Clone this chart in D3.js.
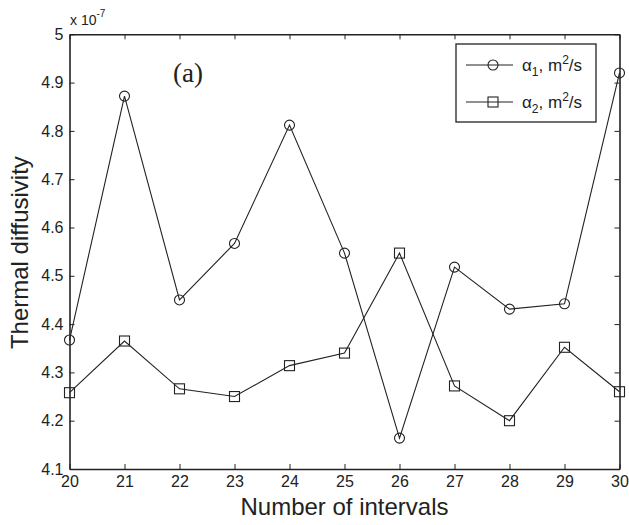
<!DOCTYPE html>
<html>
<head>
<meta charset="utf-8">
<script src="https://cdn.jsdelivr.net/npm/d3@7"></script>
<style>
  body { margin: 0; background: #fff; }
  text { font-family: "Liberation Sans", Arial, sans-serif; fill: #222; }
</style>
</head>
<body>
<div id="chart"></div>
<script>
// data (values in units of 1e-7 m^2/s)
var intervals = [20, 21, 22, 23, 24, 25, 26, 27, 28, 29, 30];
var alpha1 = [4.367, 4.872, 4.450, 4.567, 4.812, 4.547, 4.164, 4.518, 4.431, 4.442, 4.920];
var alpha2 = [4.258, 4.365, 4.266, 4.250, 4.314, 4.340, 4.547, 4.272, 4.200, 4.352, 4.260];
var xTicks = [20, 21, 22, 23, 24, 25, 26, 27, 28, 29, 30];
var yTicks = [4.1, 4.2, 4.3, 4.4, 4.5, 4.6, 4.7, 4.8, 4.9, 5];

var W = 629, H = 525;
var margin = {top: 34.3, right: 9.5, bottom: 56, left: 69.5},
    width = W - margin.left - margin.right,
    height = H - margin.top - margin.bottom;

var svg = d3.select("#chart").append("svg").attr("width", W).attr("height", H),
    g = svg.append("g").attr("transform", "translate(" + margin.left + "," + margin.top + ")");

var x = d3.scaleLinear().domain([20, 30]).range([0, width]);
var y = d3.scaleLinear().domain([4.1, 5]).range([height, 0]);

var ink = "#222";

// axes (ticks point inwards on all four sides)
function styleAxis(sel) {
    sel.select(".domain").attr("stroke", ink).attr("stroke-width", 1.6);
    sel.selectAll(".tick line").attr("stroke", ink).attr("stroke-width", 1);
    sel.selectAll(".tick text").style("font-size", "16px").attr("fill", ink);
}

g.append("g")
    .attr("transform", "translate(0," + height + ")")
    .call(d3.axisBottom(x).tickValues(xTicks).tickSize(-5).tickSizeOuter(0).tickPadding(7)
        .tickFormat(d3.format("d")))
    .call(styleAxis);

g.append("g")
    .call(d3.axisLeft(y).tickValues(yTicks).tickSize(-5).tickSizeOuter(0).tickPadding(6)
        .tickFormat(function (d) { return d === 5 ? "5" : d3.format(".1f")(d); }))
    .call(styleAxis);

g.append("g")
    .call(d3.axisTop(x).tickValues(xTicks).tickSize(-5).tickSizeOuter(0).tickFormat(""))
    .call(styleAxis);

g.append("g")
    .attr("transform", "translate(" + width + ",0)")
    .call(d3.axisRight(y).tickValues(yTicks).tickSize(-5).tickSizeOuter(0).tickFormat(""))
    .call(styleAxis);

// exponent label
var ex = svg.append("text").attr("x", 70).attr("y", 25).style("font-size", "14px");
ex.append("tspan").text("x 10");
ex.append("tspan").attr("dy", -8).style("font-size", "10px").text("-7");

// lines
var line1 = d3.line()
    .x(function (d, i) { return x(intervals[i]); })
    .y(function (d) { return y(d); });

g.append("path").datum(alpha1).attr("d", line1)
    .attr("fill", "none").attr("stroke", ink).attr("stroke-width", 1.1);
g.append("path").datum(alpha2).attr("d", line1)
    .attr("fill", "none").attr("stroke", ink).attr("stroke-width", 1.1);

// markers
g.selectAll(".m1").data(alpha1).enter().append("circle")
    .attr("class", "m1")
    .attr("cx", function (d, i) { return x(intervals[i]); })
    .attr("cy", function (d) { return y(d); })
    .attr("r", 5)
    .attr("fill", "none").attr("stroke", ink).attr("stroke-width", 1.1);

g.selectAll(".m2").data(alpha2).enter().append("rect")
    .attr("class", "m2")
    .attr("x", function (d, i) { return x(intervals[i]) - 5; })
    .attr("y", function (d) { return y(d) - 5; })
    .attr("width", 10).attr("height", 10)
    .attr("fill", "none").attr("stroke", ink).attr("stroke-width", 1.1);

// panel label
svg.append("text")
    .attr("x", 173).attr("y", 82)
    .style("font-family", "'Liberation Serif', 'Times New Roman', serif")
    .style("font-size", "27px")
    .text("(a)");

// legend
var leg = svg.append("g").attr("transform", "translate(456,44)");
leg.append("rect").attr("width", 140).attr("height", 78)
    .attr("fill", "#fff").attr("stroke", ink).attr("stroke-width", 1.3);

var legendItems = [{sub: "1", shape: "circle", yy: 21}, {sub: "2", shape: "square", yy: 58}];
legendItems.forEach(function (it) {
    leg.append("line").attr("x1", 10).attr("x2", 57).attr("y1", it.yy).attr("y2", it.yy)
        .attr("stroke", ink).attr("stroke-width", 1.1);
    if (it.shape === "circle") {
        leg.append("circle").attr("cx", 37).attr("cy", it.yy).attr("r", 5)
            .attr("fill", "none").attr("stroke", ink).attr("stroke-width", 1.1);
    } else {
        leg.append("rect").attr("x", 32).attr("y", it.yy - 5).attr("width", 10).attr("height", 10)
            .attr("fill", "none").attr("stroke", ink).attr("stroke-width", 1.1);
    }
    var t = leg.append("text").attr("x", 66).attr("y", it.yy + 6).style("font-size", "17px");
    t.append("tspan").text("\u03b1");
    t.append("tspan").attr("dy", 5).style("font-size", "12px").text(it.sub);
    t.append("tspan").attr("dy", -5).text(", m");
    t.append("tspan").attr("dy", -7).style("font-size", "12px").text("2");
    t.append("tspan").attr("dy", 7).text("/s");
});

// axis titles
svg.append("text")
    .attr("x", margin.left + width / 2).attr("y", 515)
    .attr("text-anchor", "middle")
    .style("font-size", "24px")
    .text("Number of intervals");

svg.append("text")
    .attr("transform", "translate(28," + (margin.top + height / 2 + 1) + ") rotate(-90)")
    .attr("text-anchor", "middle")
    .style("font-size", "24px")
    .text("Thermal diffusivity");
</script>
</body>
</html>
